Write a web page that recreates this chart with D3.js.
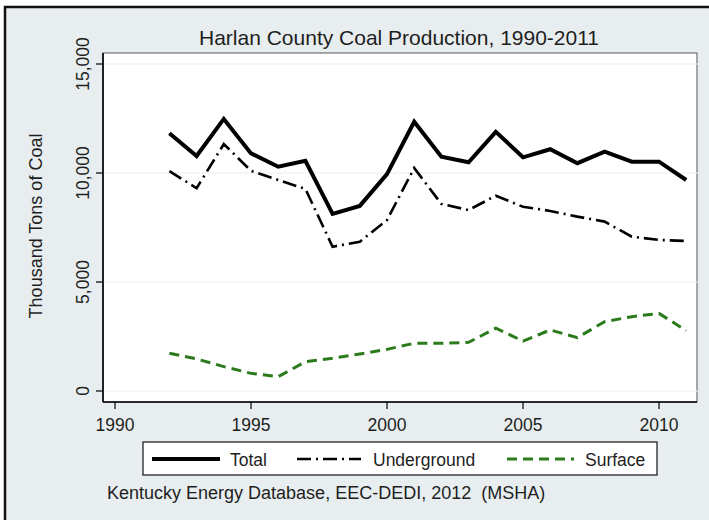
<!DOCTYPE html>
<html>
<head>
<meta charset="utf-8">
<script src="https://cdn.jsdelivr.net/npm/d3@7"></script>
<style>
  html, body { margin: 0; padding: 0; background: #fff; }
  svg { display: block; }
  text { font-family: "Liberation Sans", Arial, sans-serif; fill: #1e1e1e; white-space: pre; }
</style>
</head>
<body>
<svg id="chart" width="709" height="520"></svg>
<script>
// ---- data ----
const years = [1992,1993,1994,1995,1996,1997,1998,1999,2000,2001,2002,2003,2004,2005,2006,2007,2008,2009,2010,2011];
const total = [11820,10780,12480,10900,10290,10560,8120,8490,9950,12350,10750,10490,11890,10720,11090,10450,10980,10520,10520,9680];
const underground = [10090,9300,11330,10100,9680,9270,6620,6850,7840,10230,8580,8300,8960,8450,8260,8000,7770,7080,6930,6880];
const surface = [1730,1470,1120,810,660,1340,1500,1700,1910,2190,2190,2230,2880,2290,2800,2450,3180,3410,3560,2770];
const xTicks = [1990,1995,2000,2005,2010];
const yTicks = [0,5000,10000,15000];
const seriesNames = ["Total","Underground","Surface"];
const titleText = "Harlan County Coal Production, 1990-2011";
const yTitle = "Thousand Tons of Coal";
const noteText = "Kentucky Energy Database, EEC-DEDI, 2012  (MSHA)";

const svg = d3.select("#chart");

// outer graph region
svg.append("rect").attr("x",5).attr("y",7).attr("width",720).attr("height",530)
  .attr("fill","#e8eef0").attr("stroke","#111").attr("stroke-width",2.5);

const plot = {left:103, top:53, right:697, bottom:402};

const x = d3.scaleLinear().domain([1990,2010]).range([115,659]);
const y = d3.scaleLinear().domain([0,15000]).range([391,64]);

// plot region
svg.append("rect").attr("x",plot.left).attr("y",plot.top)
  .attr("width",plot.right-plot.left).attr("height",plot.bottom-plot.top)
  .attr("fill","#fff").attr("stroke","#555").attr("stroke-width",1);

// grid lines
svg.append("g").selectAll("line").data(yTicks).join("line")
  .attr("x1",plot.left).attr("x2",plot.right+3)
  .attr("y1",d=>y(d)).attr("y2",d=>y(d))
  .attr("stroke","#e6f1f1").attr("stroke-width",1.2);

// axes lines
svg.append("line").attr("x1",plot.left).attr("x2",plot.left).attr("y1",plot.top).attr("y2",plot.bottom)
  .attr("stroke","#000").attr("stroke-width",1.6);
svg.append("line").attr("x1",plot.left).attr("x2",plot.right).attr("y1",plot.bottom).attr("y2",plot.bottom)
  .attr("stroke","#000").attr("stroke-width",1.6);

// y ticks
const yg = svg.append("g");
yg.selectAll("line").data(yTicks).join("line")
  .attr("x1",plot.left-7).attr("x2",plot.left)
  .attr("y1",d=>y(d)).attr("y2",d=>y(d))
  .attr("stroke","#000").attr("stroke-width",1.2);
yg.selectAll("text").data(yTicks).join("text")
  .attr("transform",d=>`translate(89,${y(d)}) rotate(-90)`)
  .attr("text-anchor","middle").attr("font-size",17.5)
  .text(d=>d3.format(",")(d));

// x ticks
const xg = svg.append("g");
xg.selectAll("line").data(xTicks).join("line")
  .attr("x1",d=>x(d)).attr("x2",d=>x(d))
  .attr("y1",plot.bottom).attr("y2",plot.bottom+7)
  .attr("stroke","#000").attr("stroke-width",1.2);
xg.selectAll("text").data(xTicks).join("text")
  .attr("x",d=>x(d)).attr("y",431)
  .attr("text-anchor","middle").attr("font-size",17.5)
  .text(d=>d);

// titles
svg.append("text").attr("x",399).attr("y",45).attr("text-anchor","middle")
  .attr("font-size",21).text(titleText);
svg.append("text").attr("transform","translate(42,226) rotate(-90)")
  .attr("text-anchor","middle").attr("font-size",18).text(yTitle);

// series
const styles = [
  {stroke:"#000", width:4, dash:null},
  {stroke:"#000", width:2.6, dash:"14,5,2,5"},
  {stroke:"#2b7a1c", width:3, dash:"10,6"}
];
const data = [total, underground, surface];
const line = d3.line().x((d,i)=>x(years[i])).y(d=>y(d));
data.forEach((s,k)=>{
  svg.append("path").datum(s).attr("d",line)
    .attr("fill","none").attr("stroke",styles[k].stroke)
    .attr("stroke-width",styles[k].width)
    .attr("stroke-dasharray",styles[k].dash)
    .attr("stroke-linejoin","miter");
});

// legend
svg.append("rect").attr("x",143).attr("y",442).attr("width",514).attr("height",33)
  .attr("fill","#fff").attr("stroke","#111").attr("stroke-width",1.2);
const legendPos = [
  {x1:152, x2:220, tx:230},
  {x1:297, x2:361, tx:373},
  {x1:507, x2:574, tx:585}
];
seriesNames.forEach((n,k)=>{
  svg.append("line").attr("x1",legendPos[k].x1).attr("x2",legendPos[k].x2)
    .attr("y1",459).attr("y2",459)
    .attr("stroke",styles[k].stroke).attr("stroke-width",styles[k].width)
    .attr("stroke-dasharray",styles[k].dash);
  svg.append("text").attr("x",legendPos[k].tx).attr("y",466)
    .attr("font-size",17.5).text(n);
});

// note
svg.append("text").attr("x",107).attr("y",499).attr("font-size",18).text(noteText);
</script>
</body>
</html>
